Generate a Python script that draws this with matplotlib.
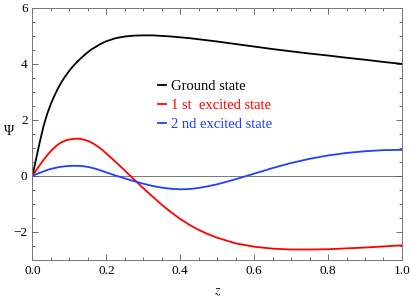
import numpy as np
import matplotlib
matplotlib.use("Agg")
from matplotlib import pyplot as plt
from matplotlib.ticker import MultipleLocator

# values
z = [0, 0.01, 0.02, 0.03, 0.04, 0.05, 0.06, 0.07, 0.08, 0.09, 0.1,
     0.11, 0.12, 0.13, 0.14, 0.15, 0.16, 0.17, 0.18, 0.19, 0.2,
     0.225, 0.25, 0.275, 0.3, 0.325, 0.35, 0.375, 0.4, 0.425, 0.45, 0.475, 0.5,
     0.55, 0.6, 0.65, 0.7, 0.75, 0.8, 0.85, 0.9, 0.95, 1.0]
ground = [0, 0.62, 1.22, 1.78, 2.22, 2.58, 2.88, 3.15, 3.38, 3.58, 3.76,
          3.92, 4.06, 4.19, 4.31, 4.42, 4.52, 4.6, 4.68, 4.75, 4.81,
          4.92, 4.98, 5.01, 5.02, 5.02, 5.0, 4.98, 4.95, 4.92, 4.88, 4.84, 4.8,
          4.71, 4.62, 4.53, 4.45, 4.37, 4.3, 4.22, 4.15, 4.07, 4.0]
first = [0, 0.2, 0.39, 0.57, 0.74, 0.89, 1.02, 1.13, 1.21, 1.27, 1.3,
         1.32, 1.33, 1.32, 1.29, 1.25, 1.19, 1.11, 1.02, 0.92, 0.8,
         0.5, 0.19, -0.13, -0.44, -0.74, -1.03, -1.3, -1.54, -1.75, -1.93, -2.08, -2.21,
         -2.41, -2.53, -2.6, -2.63, -2.63, -2.62, -2.59, -2.56, -2.52, -2.48]
second = [0, 0.06, 0.11, 0.16, 0.21, 0.25, 0.28, 0.31, 0.33, 0.345, 0.355,
          0.36, 0.36, 0.355, 0.34, 0.32, 0.29, 0.255, 0.215, 0.17, 0.125,
          0.01, -0.09, -0.19, -0.28, -0.36, -0.42, -0.46, -0.48, -0.47, -0.43, -0.37, -0.3,
          -0.12, 0.08, 0.28, 0.46, 0.61, 0.73, 0.82, 0.88, 0.92, 0.93]
labels = ["Ground state", "1 st  excited state", "2 nd excited state"]
colors = ["black", "#ff0000", "#2040ff"]

plt.rcParams['font.family'] = ['Liberation Serif', 'DejaVu Serif']
plt.rcParams['mathtext.fontset'] = 'stix'

fig = plt.figure(figsize=(4.11, 3.05), dpi=100)
ax = fig.add_axes([0.079, 0.148, 0.899, 0.826])

ax.axhline(0, color='#777777', lw=0.7, zorder=1)
for ys, c, lab in zip([ground, first, second], colors, labels):
    ax.plot(z, ys, color=c, lw=1.3, label=lab)

ax.set_xlim(0, 1)
ax.set_ylim(-3, 6)
ax.xaxis.set_major_locator(MultipleLocator(0.2))
ax.xaxis.set_minor_locator(MultipleLocator(0.05))
ax.yaxis.set_major_locator(MultipleLocator(2))
ax.yaxis.set_minor_locator(MultipleLocator(0.5))
ax.xaxis.set_major_formatter(plt.FuncFormatter(lambda v, p: "%.1f" % v))
ax.yaxis.set_major_formatter(plt.FuncFormatter(lambda v, p: "%d" % v if v >= 0 else "\u2212%d" % -v))
ax.tick_params(which='both', direction='in', top=True, right=True, colors='#555555',
               labelcolor='black', labelsize=9.5, width=0.6)
ax.tick_params(which='major', length=4)
ax.tick_params(which='minor', length=2)
for s in ax.spines.values():
    s.set_color('#777777')
    s.set_linewidth(0.7)

ax.set_xlabel("$z$", fontsize=10, labelpad=6)
ax.set_ylabel("\u03a8", fontsize=10, rotation=0, va='center', ha='center')
ax.yaxis.set_label_coords(-0.062, 0.51)

leg = ax.legend(loc='upper left', bbox_to_anchor=(0.325, 0.737), frameon=False,
                handlelength=0.5, handletextpad=0.35, labelspacing=0.4,
                fontsize=10.5, labelcolor='linecolor', borderaxespad=0)

fig.savefig("out.png", dpi=100)
